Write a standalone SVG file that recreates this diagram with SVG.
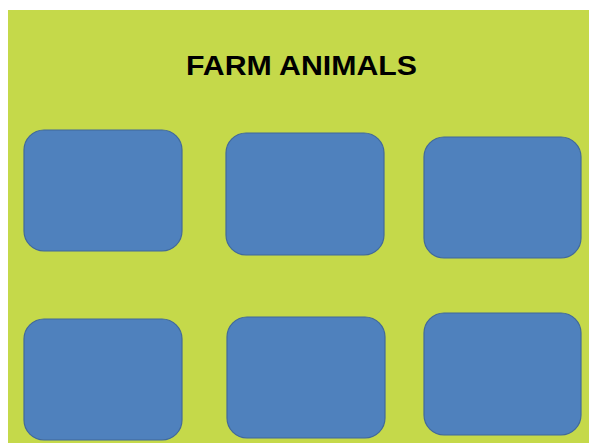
<svg xmlns="http://www.w3.org/2000/svg" width="589" height="443" viewBox="0 0 589 443">
<style>
.box{fill:#4F81BD;stroke:#41699A;stroke-width:1.2}
.title{font-family:"Liberation Sans","DejaVu Sans",sans-serif;font-weight:bold;font-size:27px;fill:#000}
</style>
<rect x="0" y="0" width="589" height="443" fill="#ffffff"/>
<rect x="8" y="10" width="581" height="433" fill="#C5D94A"/>
<g id="title"><text class="title" x="301.5" y="75" text-anchor="middle" textLength="231" lengthAdjust="spacingAndGlyphs">FARM ANIMALS</text></g>
<g id="node1"><rect class="box" x="24" y="130" width="158" height="121" rx="20" ry="20"/></g>
<g id="node2"><rect class="box" x="226" y="133" width="158" height="122" rx="20" ry="20"/></g>
<g id="node3"><rect class="box" x="424" y="137" width="157" height="121" rx="20" ry="20"/></g>
<g id="node4"><rect class="box" x="24" y="319" width="158" height="121" rx="20" ry="20"/></g>
<g id="node5"><rect class="box" x="227" y="317" width="158" height="121" rx="20" ry="20"/></g>
<g id="node6"><rect class="box" x="424" y="313" width="157" height="122" rx="20" ry="20"/></g>
<g id="connectors"></g>
</svg>
